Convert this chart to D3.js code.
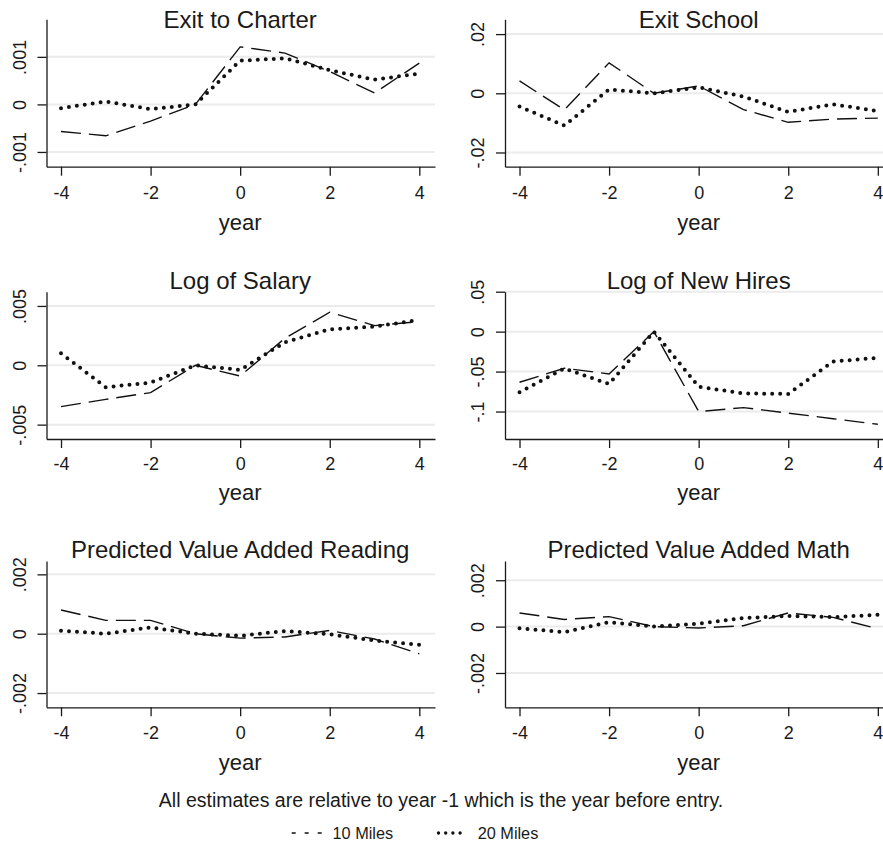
<!DOCTYPE html>
<html>
<head>
<meta charset="utf-8">
<script src="https://cdn.jsdelivr.net/npm/d3@7"></script>
<style>
  body { margin: 0; background: #fff; }
  svg { display: block; }
  text { font-family: "Liberation Sans", Arial, Helvetica, sans-serif; fill: #1a1a1a; }
</style>
</head>
<body>
<svg id="chart" width="883" height="846"></svg>
<script>
// ---------------- DATA ----------------
const years = [-4, -3, -2, -1, 0, 1, 2, 3, 4];
const xTickValues = [-4, -2, 0, 2, 4];
const xTickLabels = ["-4", "-2", "0", "2", "4"];
const xAxisTitle = "year";

const panelTitles = [
  "Exit to Charter", "Exit School",
  "Log of Salary", "Log of New Hires",
  "Predicted Value Added Reading", "Predicted Value Added Math"
];

const seriesNames = ["10 Miles", "20 Miles"];

const exitCharter10 = [-0.00057, -0.00066, -0.00035, 0, 0.00121, 0.00108, 0.00069, 0.00024, 0.00087];
const exitCharter20 = [-0.00008, 0.00006, -0.00010, 0, 0.00092, 0.00097, 0.00072, 0.00052, 0.00065];

const exitSchool10 = [0.0042, -0.0056, 0.0103, 0, 0.0025, -0.0055, -0.0098, -0.0087, -0.0084];
const exitSchool20 = [-0.0045, -0.0109, 0.0013, 0, 0.0020, -0.0011, -0.0063, -0.0037, -0.0060];

const salary10 = [-0.00348, -0.00287, -0.00230, 0, -0.00090, 0.00228, 0.00447, 0.00334, 0.00368];
const salary20 = [0.00101, -0.00185, -0.00146, 0, -0.00039, 0.00194, 0.00303, 0.00326, 0.00382];

const newHires10 = [-0.0634, -0.0458, -0.0529, 0, -0.1000, -0.0951, -0.1020, -0.1090, -0.1160];
const newHires20 = [-0.0760, -0.0462, -0.0655, 0, -0.0690, -0.0773, -0.0780, -0.0374, -0.0328];

const reading10 = [0.00080, 0.00045, 0.00045, 0, -0.00015, -0.00011, 0.00011, -0.00018, -0.00068];
const reading20 = [0.00010, 0.00000, 0.00021, 0, -0.00007, 0.00009, -0.00002, -0.00023, -0.00037];

const math10 = [0.00059, 0.00031, 0.00043, 0, -0.00006, 0.00004, 0.00059, 0.00040, -0.00009];
const math20 = [-0.00007, -0.00024, 0.00019, 0, 0.00013, 0.00037, 0.00046, 0.00041, 0.00051];

const yTicksCharter = [-0.001, 0, 0.001];
const yLabelsCharter = ["-.001", "0", ".001"];
const yTicksSchool = [-0.02, 0, 0.02];
const yLabelsSchool = ["-.02", "0", ".02"];
const yTicksSalary = [-0.005, 0, 0.005];
const yLabelsSalary = ["-.005", "0", ".005"];
const yTicksHires = [-0.1, -0.05, 0, 0.05];
const yLabelsHires = ["-.1", "-.05", "0", ".05"];
const yTicksReading = [-0.002, 0, 0.002];
const yLabelsReading = ["-.002", "0", ".002"];
const yTicksMath = [-0.002, 0, 0.002];
const yLabelsMath = ["-.002", "0", ".002"];

const captionText = "All estimates are relative to year -1 which is the year before entry.";

// ---------------- LAYOUT ----------------
const cols = [{ x0: 46.5, x1: 435 }, { x0: 505, x1: 893.5 }];
const rows = [
  { top: 19.3, bottom: 166.7, title: 28.3, tick: 32.6, label: 63.3 },
  { top: 291.7, bottom: 439, title: 289, tick: 30.5, label: 61.2 },
  { top: 561, bottom: 707.3, title: 558, tick: 32, label: 62.7 }
];
const xDomain = [-4.324, 4.35];

const panels = [
  { title: panelTitles[0], s10: exitCharter10, s20: exitCharter20, yd: [-0.00131, 0.00179], yt: yTicksCharter, yl: yLabelsCharter, c: 0, r: 0 },
  { title: panelTitles[1], s10: exitSchool10, s20: exitSchool20, yd: [-0.0248, 0.0250], yt: yTicksSchool, yl: yLabelsSchool, c: 1, r: 0 },
  { title: panelTitles[2], s10: salary10, s20: salary20, yd: [-0.00621, 0.0062], yt: yTicksSalary, yl: yLabelsSalary, c: 0, r: 1 },
  { title: panelTitles[3], s10: newHires10, s20: newHires20, yd: [-0.1344, 0.05], yt: yTicksHires, yl: yLabelsHires, c: 1, r: 1 },
  { title: panelTitles[4], s10: reading10, s20: reading20, yd: [-0.00248, 0.00245], yt: yTicksReading, yl: yLabelsReading, c: 0, r: 2 },
  { title: panelTitles[5], s10: math10, s20: math20, yd: [-0.00348, 0.00283], yt: yTicksMath, yl: yLabelsMath, c: 1, r: 2 }
];

const ink = "#1a1a1a";
const gridColor = "#ebebeb";

const svg = d3.select("#chart");

panels.forEach(p => {
  const col = cols[p.c], row = rows[p.r];
  const x = d3.scaleLinear().domain(xDomain).range([col.x0, col.x1]);
  const y = d3.scaleLinear().domain(p.yd).range([row.bottom, row.top]);
  const g = svg.append("g");

  // gridlines
  g.selectAll("line.grid").data(p.yt).enter().append("line")
    .attr("class", "grid")
    .attr("x1", col.x0).attr("x2", col.x1)
    .attr("y1", d => y(d)).attr("y2", d => y(d))
    .attr("stroke", gridColor).attr("stroke-width", 2);

  // y axis
  const yAxis = d3.axisLeft(y).tickValues(p.yt)
    .tickFormat((d, i) => p.yl[i]).tickSize(9).tickSizeOuter(0);
  const ya = g.append("g").attr("transform", `translate(${col.x0},0)`).call(yAxis);
  ya.select(".domain").attr("stroke", ink).attr("stroke-width", 1.3);
  ya.selectAll(".tick line").attr("stroke", ink).attr("stroke-width", 1.3);
  ya.selectAll(".tick text")
    .attr("transform", "rotate(-90)")
    .attr("x", 0).attr("y", -21).attr("dy", 0)
    .attr("text-anchor", "middle")
    .style("font-size", "18px").attr("fill", ink);

  // x axis
  const xAxis = d3.axisBottom(x).tickValues(xTickValues)
    .tickFormat((d, i) => xTickLabels[i]).tickSize(9).tickSizeOuter(0);
  const xa = g.append("g").attr("transform", `translate(0,${row.bottom})`).call(xAxis);
  xa.select(".domain").attr("stroke", ink).attr("stroke-width", 1.3);
  xa.selectAll(".tick line").attr("stroke", ink).attr("stroke-width", 1.3);
  xa.selectAll(".tick text")
    .attr("y", row.tick).attr("dy", 0)
    .style("font-size", "18px").attr("fill", ink);
  g.selectAll("g").attr("font-family", null).attr("font-size", null);

  // axis title
  g.append("text").attr("x", x(0)).attr("y", row.bottom + row.label)
    .attr("text-anchor", "middle").style("font-size", "22px").text(xAxisTitle);

  // panel title
  g.append("text").attr("x", x(0)).attr("y", row.title)
    .attr("text-anchor", "middle").style("font-size", "24px").text(p.title);

  // lines
  const line = d3.line().x((d, i) => x(years[i])).y(d => y(d));
  g.append("path").datum(p.s10).attr("d", line)
    .attr("fill", "none").attr("stroke", "#111").attr("stroke-width", 1.4)
    .attr("stroke-dasharray", "20 8");
  g.append("path").datum(p.s20).attr("d", line)
    .attr("fill", "none").attr("stroke", "#111").attr("stroke-width", 4)
    .attr("stroke-linecap", "round").attr("stroke-dasharray", "0 8");
});

// caption
svg.append("text").attr("x", 441).attr("y", 807).attr("text-anchor", "middle")
  .style("font-size", "19.5px").text(captionText);

// legend
const lg = svg.append("g");
lg.append("line").attr("x1", 291.7).attr("x2", 323).attr("y1", 833).attr("y2", 833)
  .attr("stroke", "#111").attr("stroke-width", 1.4).attr("stroke-dasharray", "4 9");
lg.append("text").attr("x", 332.5).attr("y", 839).style("font-size", "16.3px").text(seriesNames[0]);
lg.append("line").attr("x1", 438.5).attr("x2", 460.5).attr("y1", 833).attr("y2", 833)
  .attr("stroke", "#111").attr("stroke-width", 3.4).attr("stroke-linecap", "round")
  .attr("stroke-dasharray", "0 7.2");
lg.append("text").attr("x", 477.7).attr("y", 839).style("font-size", "16.3px").text(seriesNames[1]);
</script>
</body>
</html>
